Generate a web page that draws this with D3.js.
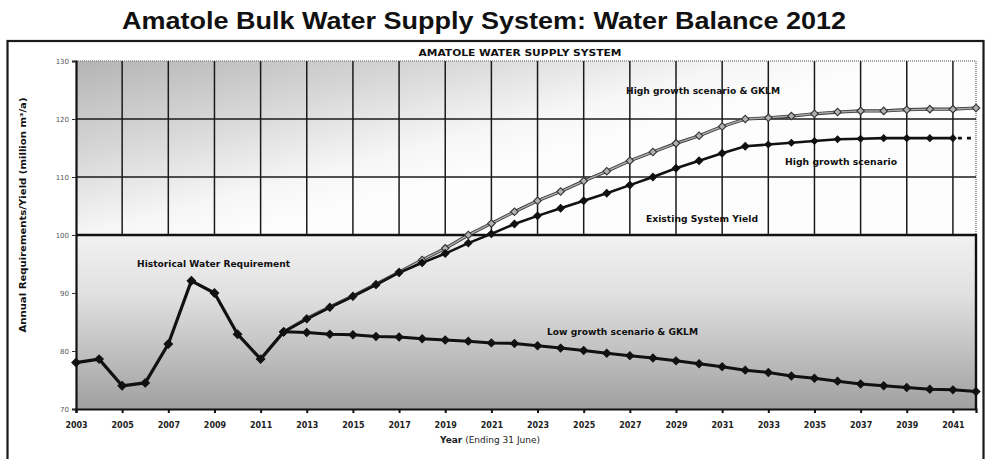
<!DOCTYPE html>
<html>
<head>
<meta charset="utf-8">
<script src="https://cdn.jsdelivr.net/npm/d3@7/dist/d3.min.js"></script>
<style>
  html, body { margin: 0; padding: 0; background: #fff; }
  svg { display: block; }
</style>
</head>
<body>
<svg id="chart" width="987" height="459"></svg>
<script>
// Water balance for the Amatole bulk water supply system (million m³/a)

const histYears = [2003, 2004, 2005, 2006, 2007, 2008, 2009, 2010, 2011, 2012];
const historical = [78.0, 78.6, 74.0, 74.5, 81.2, 92.1, 90.0, 82.9, 78.6, 83.3];

const projYears = [2012, 2013, 2014, 2015, 2016, 2017, 2018, 2019, 2020, 2021,
                   2022, 2023, 2024, 2025, 2026, 2027, 2028, 2029, 2030, 2031,
                   2032, 2033, 2034, 2035, 2036, 2037, 2038, 2039, 2040, 2041, 2042];

const lowGrowthGKLM = [83.3, 83.2, 82.9, 82.8, 82.5, 82.4, 82.1, 81.9, 81.7, 81.4,
                       81.3, 80.9, 80.5, 80.1, 79.6, 79.2, 78.8, 78.3, 77.8, 77.3,
                       76.7, 76.3, 75.7, 75.3, 74.8, 74.3, 74.0, 73.7, 73.4, 73.3, 73.0];

const highGrowth = [83.3, 85.5, 87.5, 89.4, 91.4, 93.5, 95.2, 96.8, 98.6, 100.2,
                    101.9, 103.3, 104.6, 105.9, 107.2, 108.6, 110.0, 111.5, 112.8, 114.1,
                    115.3, 115.6, 115.9, 116.2, 116.5, 116.6, 116.7, 116.7, 116.7, 116.7, 116.7];

const highGrowthGKLM = [83.3, 85.6, 87.6, 89.5, 91.5, 93.6, 95.7, 97.7, 100.0, 102.0,
                        104.0, 105.9, 107.5, 109.3, 111.0, 112.8, 114.3, 115.8, 117.1, 118.7,
                        120.0, 120.2, 120.5, 120.9, 121.2, 121.4, 121.4, 121.6, 121.7, 121.7, 121.9];

const yieldYears = [2003, 2042];
const existingYield = [100, 100];

const yTicks = [70, 80, 90, 100, 110, 120, 130];
const xTicks = [2003, 2005, 2007, 2009, 2011, 2013, 2015, 2017, 2019, 2021,
                2023, 2025, 2027, 2029, 2031, 2033, 2035, 2037, 2039, 2041];
const gridYears = [2005, 2007, 2009, 2011, 2013, 2015, 2017, 2019, 2021,
                   2023, 2025, 2027, 2029, 2031, 2033, 2035, 2037, 2039, 2041];
const gridValues = [110, 120];

const svg = d3.select("#chart");
const W = 987, H = 459;
const plot = { left: 76, right: 976, top: 61, bottom: 409 };

const x = d3.scaleLinear().domain([2003, 2042]).range([plot.left, plot.right]);
const y = d3.scaleLinear().domain([70, 130]).range([plot.bottom, plot.top]);

const defs = svg.append("defs");
const gUp = defs.append("linearGradient").attr("id", "upperFill")
  .attr("x1", 0).attr("y1", 0).attr("x2", 0.6).attr("y2", 0.45);
gUp.append("stop").attr("offset", 0).attr("stop-color", "#b4b4b4");
gUp.append("stop").attr("offset", 0.45).attr("stop-color", "#d8d8d8");
gUp.append("stop").attr("offset", 0.8).attr("stop-color", "#f6f6f6");
gUp.append("stop").attr("offset", 1).attr("stop-color", "#fdfdfd");

const gLow = defs.append("linearGradient").attr("id", "lowerFill")
  .attr("x1", 0).attr("y1", 0).attr("x2", 0).attr("y2", 1);
gLow.append("stop").attr("offset", 0).attr("stop-color", "#f1f1f1");
gLow.append("stop").attr("offset", 0.35).attr("stop-color", "#e0e0e0");
gLow.append("stop").attr("offset", 1).attr("stop-color", "#a0a0a0");

svg.append("rect").attr("width", W).attr("height", H).attr("fill", "#fff");

// Page title
svg.append("text")
  .attr("x", 484).attr("y", 29)
  .attr("text-anchor", "middle")
  .attr("font-family", "Liberation Sans, Arial, sans-serif")
  .attr("font-weight", "bold").attr("font-size", 24)
  .attr("textLength", 724).attr("lengthAdjust", "spacingAndGlyphs")
  .attr("fill", "#111")
  .text("Amatole Bulk Water Supply System: Water Balance 2012");

// Outer frame
svg.append("rect")
  .attr("x", 7.5).attr("y", 41).attr("width", 976).attr("height", 440)
  .attr("fill", "none").attr("stroke", "#1a1a1a").attr("stroke-width", 2.2);

// Chart heading
svg.append("text")
  .attr("x", 520).attr("y", 55.5)
  .attr("text-anchor", "middle")
  .attr("font-family", "DejaVu Sans, Verdana, sans-serif")
  .attr("font-weight", "bold").attr("font-size", 9)
  .attr("textLength", 203).attr("lengthAdjust", "spacingAndGlyphs")
  .attr("fill", "#111")
  .text("AMATOLE WATER SUPPLY SYSTEM");

// Region above the existing yield
svg.append("rect")
  .attr("x", x(2003)).attr("y", y(130))
  .attr("width", x(2042) - x(2003)).attr("height", y(100) - y(130))
  .attr("fill", "url(#upperFill)");

// Plot border above the yield (dotted grey)
svg.append("path")
  .attr("d", `M${x(2003)},${y(130)}H${x(2042)}V${y(100)}`)
  .attr("fill", "none").attr("stroke", "#8a8a8a")
  .attr("stroke-width", 1.6).attr("stroke-dasharray", "1,1");

// Vertical grid
svg.append("g").selectAll("line").data(gridYears).join("line")
  .attr("x1", d => x(d)).attr("x2", d => x(d))
  .attr("y1", y(130)).attr("y2", y(100))
  .attr("stroke", "#1a1a1a").attr("stroke-width", 1.5);

// Horizontal grid
svg.append("g").selectAll("line").data(gridValues).join("line")
  .attr("x1", x(2003)).attr("x2", x(2042))
  .attr("y1", d => y(d)).attr("y2", d => y(d))
  .attr("stroke", "#1a1a1a").attr("stroke-width", 1.3);

// Existing system yield: box below the yield line
const yieldArea = d3.area()
  .x(d => x(d[0])).y0(y(70)).y1(d => y(d[1]));
const yieldPts = yieldYears.map((yr, i) => [yr, existingYield[i]]);
svg.append("path").datum(yieldPts)
  .attr("d", yieldArea)
  .attr("fill", "url(#lowerFill)");
svg.append("path").datum(yieldPts)
  .attr("d", d3.line().x(d => x(d[0])).y(d => y(d[1])))
  .attr("fill", "none").attr("stroke", "#111").attr("stroke-width", 2.4);
svg.append("line")
  .attr("x1", x(2042)).attr("x2", x(2042))
  .attr("y1", y(100) - 1.2).attr("y2", y(70))
  .attr("stroke", "#111").attr("stroke-width", 2.4);

// Axes
const yAxis = svg.append("g")
  .attr("transform", `translate(${plot.left},0)`)
  .call(d3.axisLeft(y).tickValues(yTicks).tickSize(4).tickPadding(3).tickFormat(d3.format("d")));
yAxis.select(".domain").attr("stroke", "#111").attr("stroke-width", 2.2);
yAxis.selectAll(".tick line").attr("stroke", "#333").attr("stroke-width", 1);
yAxis.selectAll(".tick text")
  .attr("font-family", "DejaVu Sans, Verdana, sans-serif")
  .attr("font-size", 7).attr("fill", "#555");

const xAxis = svg.append("g")
  .attr("transform", `translate(0,${plot.bottom})`)
  .call(d3.axisBottom(x).tickValues(xTicks).tickSize(4).tickPadding(9).tickFormat(d3.format("d")));
xAxis.select(".domain").attr("stroke", "#111").attr("stroke-width", 2.2);
xAxis.selectAll(".tick line").attr("stroke", "#111").attr("stroke-width", 2);
xAxis.selectAll(".tick text")
  .attr("font-family", "DejaVu Sans, Verdana, sans-serif")
  .attr("font-weight", "bold")
  .attr("font-size", 8).attr("fill", "#222");

// Axis titles
svg.append("text")
  .attr("transform", "translate(26,215) rotate(-90)")
  .attr("text-anchor", "middle")
  .attr("font-family", "DejaVu Sans, Verdana, sans-serif")
  .attr("font-weight", "bold").attr("font-size", 8)
  .attr("textLength", 235).attr("lengthAdjust", "spacingAndGlyphs")
  .attr("fill", "#111")
  .text("Annual Requirements/Yield (million m³/a)");

const xTitle = svg.append("text")
  .attr("x", 490).attr("y", 443)
  .attr("text-anchor", "middle")
  .attr("font-family", "DejaVu Sans, Verdana, sans-serif")
  .attr("font-size", 9).attr("fill", "#222");
xTitle.append("tspan").attr("font-weight", "bold").text("Year");
xTitle.append("tspan").text(" (Ending 31 June)");

// Series lines
const line = d3.line().x(d => x(d[0])).y(d => y(d[1]));
const zipP = vals => projYears.map((yr, i) => [yr, vals[i]]);

const gklmPts = zipP(highGrowthGKLM);
svg.append("path").datum(gklmPts).attr("d", line)
  .attr("fill", "none").attr("stroke", "#3a3a3a").attr("stroke-width", 3.2);
svg.append("path").datum(gklmPts).attr("d", line)
  .attr("fill", "none").attr("stroke", "#a8a8a8").attr("stroke-width", 1.5);

const highPts = zipP(highGrowth);
const highSolid = highPts.filter(d => d[0] <= 2041);
const highDash = highPts.filter(d => d[0] >= 2041);
svg.append("path").datum(highSolid).attr("d", line)
  .attr("fill", "none").attr("stroke", "#111").attr("stroke-width", 2.6);
svg.append("path").datum(highDash).attr("d", line)
  .attr("fill", "none").attr("stroke", "#111").attr("stroke-width", 2.6)
  .attr("stroke-dasharray", "4,5").attr("stroke-dashoffset", -5);

const lowPts = zipP(lowGrowthGKLM);
svg.append("path").datum(lowPts).attr("d", line)
  .attr("fill", "none").attr("stroke", "#111").attr("stroke-width", 3);

const histPts = histYears.map((yr, i) => [yr, historical[i]]);
svg.append("path").datum(histPts).attr("d", line)
  .attr("fill", "none").attr("stroke", "#111").attr("stroke-width", 3.2)
  .attr("stroke-linejoin", "round");

// Markers
const diamond = d3.symbol().type(d3.symbolSquare);
function markers(pts, size, fill, stroke, sw) {
  svg.append("g").selectAll("path").data(pts).join("path")
    .attr("d", diamond.size(size)())
    .attr("transform", d => `translate(${x(d[0])},${y(d[1])}) rotate(45)`)
    .attr("fill", fill).attr("stroke", stroke).attr("stroke-width", sw);
}
markers(gklmPts, 28, "#b0b0b0", "#333", 1.1);
markers(highSolid.filter(d => d[0] <= 2032), 28, "#111", "#111", 1);
markers(highSolid.filter(d => d[0] > 2032), 22, "#111", "#111", 1);
markers(lowPts, 32, "#111", "#111", 1);
markers(histPts, 36, "#111", "#111", 1);

// Series annotations
const notes = [
  { t: "Historical Water Requirement", x: 137, y: 267, w: 153 },
  { t: "Low growth scenario & GKLM", x: 547, y: 335, w: 151 },
  { t: "High growth scenario & GKLM", x: 626, y: 94, w: 154 },
  { t: "High growth scenario", x: 785, y: 165, w: 112 },
  { t: "Existing System Yield", x: 646, y: 222, w: 112 }
];
svg.append("g").selectAll("text").data(notes).join("text")
  .attr("x", d => d.x).attr("y", d => d.y)
  .attr("font-family", "DejaVu Sans, Verdana, sans-serif")
  .attr("font-weight", "bold").attr("font-size", 8)
  .attr("textLength", d => d.w).attr("lengthAdjust", "spacingAndGlyphs")
  .attr("fill", "#111")
  .text(d => d.t);
</script>
</body>
</html>
